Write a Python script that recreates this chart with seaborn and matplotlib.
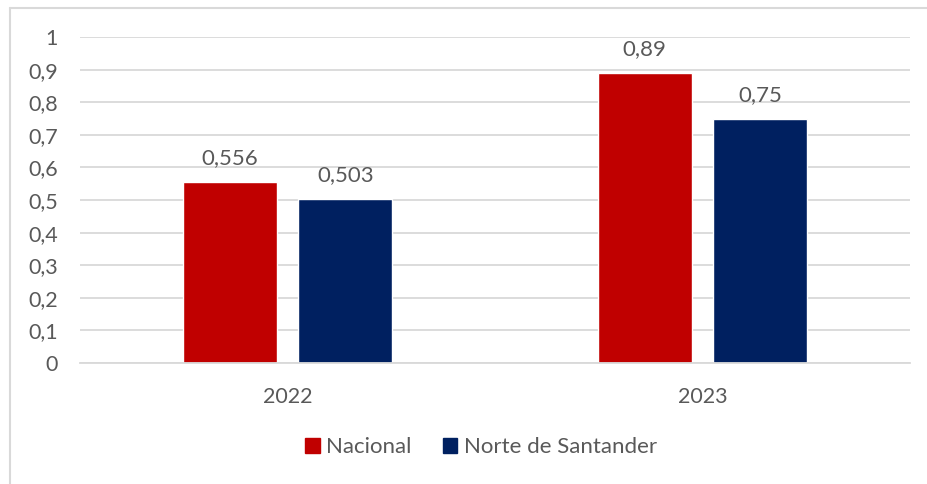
import matplotlib
matplotlib.use("Agg")
import matplotlib.pyplot as plt
import pandas as pd
import seaborn as sns
from matplotlib.lines import Line2D

# data
years = ["2022", "2023"]
nacional = [0.556, 0.89]
norte_santander = [0.503, 0.75]
series_names = ["Nacional", "Norte de Santander"]
y_ticks = [0, 0.1, 0.2, 0.3, 0.4, 0.5, 0.6, 0.7, 0.8, 0.9, 1]

colors = ["#C00000", "#002060"]
text_color = "#595959"
grid_color = "#D9D9D9"

df = pd.DataFrame({
    "year": years * 2,
    "value": nacional + norte_santander,
    "serie": [series_names[0]] * len(years) + [series_names[1]] * len(years),
})

sns.set_style("white")
plt.rcParams["font.family"] = ["Lato", "DejaVu Sans"]

fig = plt.figure(figsize=(9.27, 4.84), dpi=100)
ax = fig.add_axes([80 / 927, 1 - 363 / 484, 830 / 927, 326 / 484])

sns.barplot(data=df, x="year", y="value", hue="serie", palette=colors,
            width=0.558, gap=0.19, ax=ax, legend=False, saturation=1)

ax.set_ylim(0, 1)
ax.set_yticks(y_ticks)
ax.set_yticklabels([("%g" % t).replace(".", ",") for t in y_ticks])
ax.set_xlabel("")
ax.set_ylabel("")
ax.yaxis.grid(True, color=grid_color, linewidth=1.3)
ax.set_axisbelow(True)
for side in ["top", "right", "left"]:
    ax.spines[side].set_visible(False)
ax.spines["bottom"].set_color(grid_color)
ax.spines["bottom"].set_linewidth(1.3)
ax.tick_params(axis="y", length=0, pad=16, labelsize=15.5, labelcolor=text_color)
ax.tick_params(axis="x", length=0, pad=17, labelsize=15.5, labelcolor=text_color)

for cont in ax.containers:
    labels = [("%g" % b.get_height()).replace(".", ",") for b in cont]
    ax.bar_label(cont, labels=labels, padding=10, fontsize=16, color=text_color)

handles = [plt.Rectangle((0, 0), 1, 1, color=c) for c in colors]
fig.legend(handles, series_names, loc="center", bbox_to_anchor=(481 / 927, 1 - 447 / 484),
           ncol=2, frameon=False, fontsize=16, labelcolor=text_color,
           handlelength=0.65, handleheight=0.65, handletextpad=0.3, columnspacing=1.4)

# outer chart border (only left and top visible in the crop)
fig.add_artist(Line2D([9.5 / 927, 9.5 / 927], [0, 1 - 7.5 / 484], color=grid_color, lw=1.5))
fig.add_artist(Line2D([9.5 / 927, 1], [1 - 7.5 / 484, 1 - 7.5 / 484], color=grid_color, lw=1.5))

fig.savefig("out.png", dpi=100)
plt.close(fig)
